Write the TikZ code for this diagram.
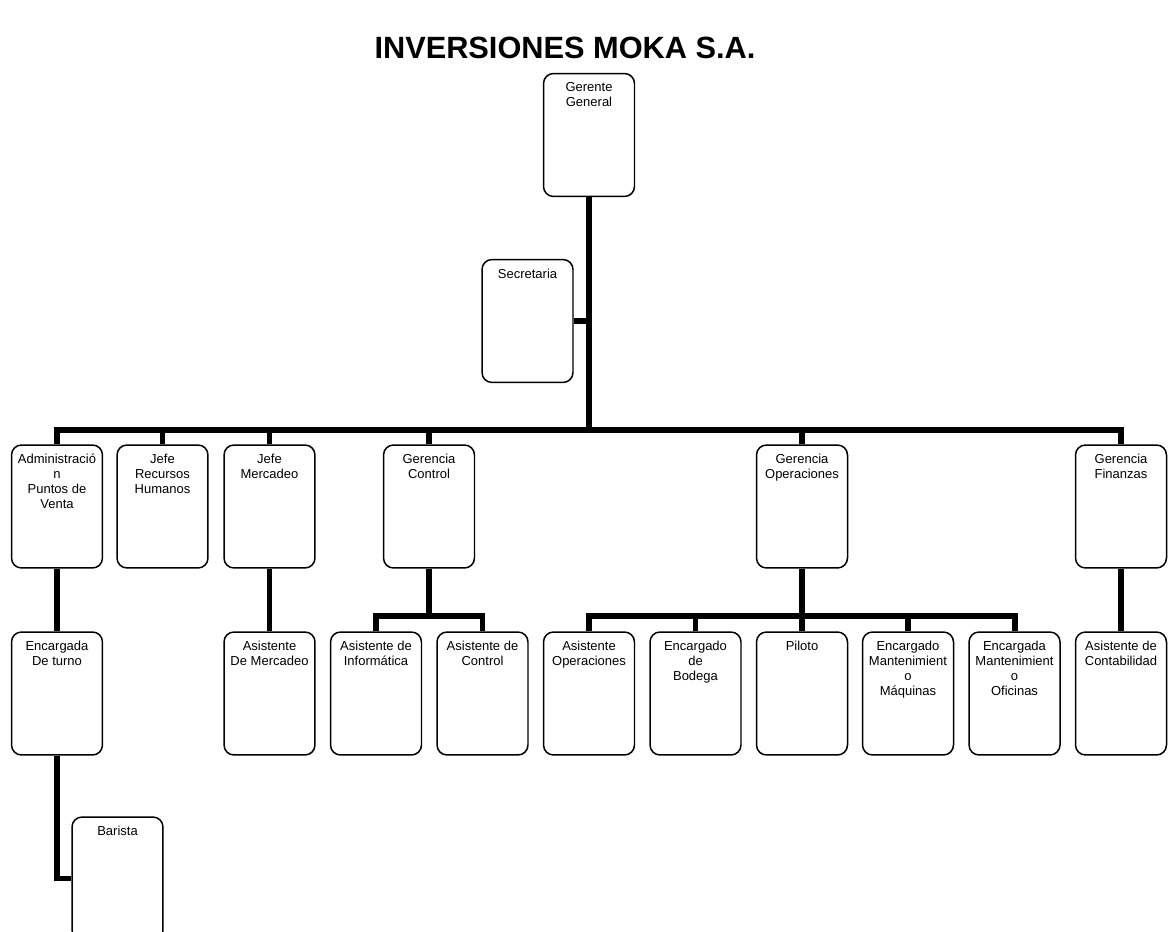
\documentclass[tikz,border=0pt]{standalone}
\usepackage{fontspec}
\setmainfont{Liberation Sans}
\tikzset{
  puesto/.style={draw, line width=0.85pt, rounded corners=0.2cm,
    minimum width=1.82cm, minimum height=2.46cm},
  rotulo/.style={anchor=north, align=center, inner sep=0pt, yshift=-0.19cm,
    font=\fontsize{7.4}{8.5}\selectfont},
  enlace/.style={line width=3.4pt}
}
\begin{document}
\begin{tikzpicture}[x=0.02cm, y=-0.02cm]
  \useasboundingbox (0,0) rectangle (1169,932);
  \node[font=\bfseries\fontsize{17.5}{20}\selectfont] (titulo) at (565,48) {INVERSIONES MOKA S.A.};
  \coordinate (bus) at (0,430);
  \coordinate (sbus) at (0,616);
  % direccion
  \node[puesto, label={[rotulo]north:{Gerente\\General}}] (gg) at (589,135) {};
  \node[puesto, label={[rotulo]north:{Secretaria}}] (sec) at (527.5,321) {};
  % primer nivel
  \node[puesto, label={[rotulo]north:{Administració\\n\\Puntos de\\Venta}}] (apv) at (57,506.5) {};
  \node[puesto, label={[rotulo]north:{Jefe\\Recursos\\Humanos}}] (jrh) at (162.5,506.5) {};
  \node[puesto, label={[rotulo]north:{Jefe\\Mercadeo}}] (jm) at (269.5,506.5) {};
  \node[puesto, label={[rotulo]north:{Gerencia\\Control}}] (gc) at (429,506.5) {};
  \node[puesto, label={[rotulo]north:{Gerencia\\Operaciones}}] (gop) at (802,506.5) {};
  \node[puesto, label={[rotulo]north:{Gerencia\\Finanzas}}] (gf) at (1121,506.5) {};
  % segundo nivel
  \node[puesto, label={[rotulo]north:{Encargada\\De turno}}] (et) at (57,693.5) {};
  \node[puesto, label={[rotulo]north:{Asistente\\De Mercadeo}}] (am) at (269.5,693.5) {};
  \node[puesto, label={[rotulo]north:{Asistente de\\Informática}}] (ai) at (376,693.5) {};
  \node[puesto, label={[rotulo]north:{Asistente de\\Control}}] (ac) at (482.5,693.5) {};
  \node[puesto, label={[rotulo]north:{Asistente\\Operaciones}}] (aop) at (589,693.5) {};
  \node[puesto, label={[rotulo]north:{Encargado\\de\\Bodega}}] (eb) at (695.5,693.5) {};
  \node[puesto, label={[rotulo]north:{Piloto}}] (pil) at (802,693.5) {};
  \node[puesto, label={[rotulo]north:{Encargado\\Mantenimient\\o\\Máquinas}}] (emm) at (908,693.5) {};
  \node[puesto, label={[rotulo]north:{Encargada\\Mantenimient\\o\\Oficinas}}] (emo) at (1014.5,693.5) {};
  \node[puesto, label={[rotulo]north:{Asistente de\\Contabilidad}}] (acon) at (1121,693.5) {};
  \node[puesto, label={[rotulo]north:{Barista}}] (bar) at (117.5,878.5) {};
  % enlaces
  \draw[enlace] (gg.south) -- (gg.south |- bus);
  \draw[enlace] (sec.east) -- (sec.east -| gg.south);
  \draw[enlace] (apv.north) |- (gf.north |- bus) -- (gf.north);
  \foreach \n in {jrh, jm, gc, gop}
    \draw[enlace] (\n.north) -- (\n.north |- bus);
  \draw[enlace] (apv.south) -- (et.north);
  \draw[enlace] (et.south) |- (bar.west);
  \draw[enlace] (jm.south) -- (am.north);
  \draw[enlace] (gc.south) -- (gc.south |- sbus);
  \draw[enlace] (ai.north) |- (ac.north |- sbus) -- (ac.north);
  \draw[enlace] (gop.south) -- (gop.south |- sbus);
  \draw[enlace] (aop.north) |- (emo.north |- sbus) -- (emo.north);
  \foreach \n in {eb, pil, emm}
    \draw[enlace] (\n.north) -- (\n.north |- sbus);
  \draw[enlace] (gf.south) -- (acon.north);
\end{tikzpicture}
\end{document}
